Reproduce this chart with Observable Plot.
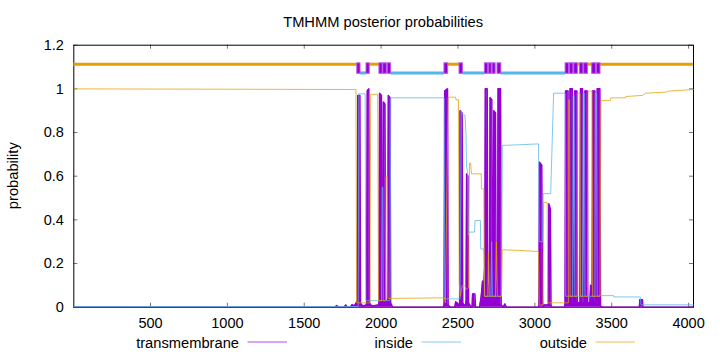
<!DOCTYPE html>
<html><head><meta charset="utf-8">
<script src="https://cdn.jsdelivr.net/npm/d3@7"></script>
<script src="https://cdn.jsdelivr.net/npm/@observablehq/plot@0.6"></script>
<style>body{margin:0;background:#fff}svg{display:block}</style>
</head><body><div id="chart"></div>
<script>
const titleText = "TMHMM posterior probabilities";
const yLabel = "probability";
const seriesNames = ["transmembrane", "inside", "outside"];
const seriesColors = ["#9400d3", "#56b4e9", "#e69f00"];
const xTicks = [500, 1000, 1500, 2000, 2500, 3000, 3500, 4000];
const yTicks = [0, 0.2, 0.4, 0.6, 0.8, 1, 1.2];

// [residue, probability]
const transmembrane = [[1,0],[1700,0],[1712,0.008],[1725,0],[1760,0],[1770,0.01],[1780,0],[1800,0],[1812,0.012],[1825,0.005],[1838,0.02],
[1845,0.03],[1848,0.97],[1862,0.97],[1866,0.02],[1880,0.005],[1904,0.01],
[1907,0.03],[1910,0.99],[1920,1.0],[1924,0.02],[1940,0.005],[1984,0.01],
[1987,0.03],[1990,0.98],[2002,0.97],[2006,0.03],
[2012,0.03],[2015,0.94],[2025,0.93],[2029,0.03],
[2043,0.03],[2047,0.97],[2058,0.96],[2062,0.02],[2075,0],[2405,0],
[2410,0.01],[2414,0.99],[2432,1.0],[2436,0.01],[2450,0],[2480,0],[2485,0.025],[2495,0.02],[2505,0.005],
[2511,0.02],[2514,0.9],[2527,0.89],[2531,0.02],[2540,0.01],[2550,0.01],
[2553,0.03],[2556,0.61],[2565,0.6],[2569,0.02],[2585,0],[2592,0],[2595,0.06],[2610,0.06],[2614,0],
[2640,0],[2650,0.04],[2660,0.12],[2667,0.06],[2672,0.16],
[2675,0.2],[2678,1.0],[2690,1.0],[2694,0.08],[2700,0.05],[2706,0.12],
[2709,0.96],[2720,0.95],[2724,0.05],[2729,0.08],[2733,0.9],[2744,0.89],[2748,0.04],[2753,0.05],[2758,0.12],
[2761,1.0],[2777,1.0],[2781,0.01],[2795,0],[2805,0.015],[2815,0],[3025,0],
[3027,0.03],[3030,0.664],[3045,0.65],[3050,0.03],[3053,0],[3060,0.01],[3080,0.01],
[3088,0.01],[3091,0.474],[3101,0.45],[3105,0.01],[3110,0],[3194,0],
[3197,0.02],[3200,0.99],[3216,0.99],[3219,0.02],
[3226,0.02],[3229,1.0],[3244,1.0],[3247,0.02],
[3256,0.02],[3260,0.99],[3274,0.99],[3277,0.02],
[3294,0.02],[3297,1.0],[3310,1.0],[3313,0.02],
[3323,0.02],[3326,0.99],[3341,0.99],[3344,0.02],
[3358,0.02],[3363,0.1],[3369,0.03],
[3373,0.02],[3376,0.99],[3391,0.99],[3394,0.02],
[3403,0.02],[3406,1.0],[3423,1.0],[3427,0.005],
[3440,0],[3680,0],[3683,0.034],[3700,0.034],[3703,0],[4031,0]];

const inside = [[1,0.003],[1851,0.003],[1855,0.977],[1896,0.977],[1900,0.03],[2003,0.03],[2007,0.55],[2011,0.55],[2014,0.03],[2058,0.03],
[2063,0.959],[2410,0.959],[2414,0.038],[2514,0.038],[2520,0.9],[2530,0.88],[2545,0.88],[2552,0.8],[2556,0.64],[2563,0.62],[2568,0.33],
[2572,0.344],[2608,0.344],[2611,0.397],[2646,0.397],[2648,0.267],[2668,0.267],[2674,0.05],[2714,0.05],[2719,0.3],[2724,0.05],[2783,0.05],
[2788,0.741],[2900,0.744],[3024,0.748],[3028,0.3],[3050,0.3],[3054,0.52],[3103,0.52],[3122,0.98],[3197,0.98],[3201,0.05],
[3245,0.05],[3249,0.97],[3256,0.97],[3260,0.05],[3310,0.05],[3314,0.98],[3322,0.98],[3326,0.05],[3391,0.05],[3395,0.98],[3402,0.98],[3406,0.05],
[3428,0.053],[3512,0.053],[3514,0.047],[3686,0.047],[3690,0.011],[4031,0.011]];

const outside = [[1,1.0],[1836,0.997],[1841,0.02],[1928,0.02],[1932,0.975],[1978,0.975],[1983,0.03],[2028,0.03],[2032,0.6],[2040,0.6],[2044,0.04],
[2412,0.043],[2418,0.02],[2436,0.962],[2484,0.962],[2487,0.95],[2503,0.95],[2508,0.11],[2515,0.05],[2528,0.1],[2545,0.1],[2550,0.08],[2569,0.09],
[2575,0.66],[2582,0.66],[2588,0.611],[2651,0.611],[2653,0.542],[2668,0.542],[2672,0.05],[2694,0.05],[2698,0.25],[2704,0.05],[2744,0.05],[2750,0.3],[2756,0.05],[2783,0.05],
[2788,0.263],[2900,0.26],[3024,0.255],[3028,0.01],[3053,0.01],[3057,0.48],[3080,0.48],[3084,0.02],[3218,0.02],[3220,0.95],[3226,0.95],[3229,0.05],
[3276,0.05],[3279,0.98],[3294,0.98],[3297,0.05],[3342,0.05],[3346,0.99],[3372,0.99],[3376,0.05],[3424,0.05],[3430,0.947],[3492,0.947],[3494,0.959],
[3590,0.959],[3592,0.965],[3700,0.97],[3720,0.98],[3850,0.985],[3870,0.99],[4031,0.997]];

// predicted topology (top indicator)
const tmBoxes = [[1845,1866],[1905,1926],[1989,2010],[2014,2037],[2043,2065],[2412,2436],[2510,2532],[2675,2697],[2702,2720],[2725,2745],[2757,2782],
[3200,3223],[3228,3251],[3256,3280],[3293,3316],[3321,3345],[3373,3398],[3403,3427]];
const insideSegs = [[1866,1905],[2065,2412],[2532,2675],[2782,3200]];
const outsideSegs = [[1,1845],[1926,1989],[2436,2510],[3280,3293],[3345,3373],[3427,4031]];
const topoLevel = {outside: 1.113, inside: 1.073, tmLow: 1.069, tmHigh: 1.117};

const W = 720, H = 352, mL = 73.3, mR = 27, mT = 44.7, mB = 45.3;
const plotW = W - mL - mR, plotH = H - mT - mB;
const font = "'Liberation Sans', Arial, Helvetica, sans-serif";

const chart = Plot.plot({
  width: W, height: H,
  marginLeft: mL, marginRight: mR, marginTop: mT, marginBottom: mB,
  style: {fontFamily: font, fontSize: "14.5px", color: "#000", background: "#fff", overflow: "visible"},
  x: {domain: [1, 4032], ticks: xTicks, tickSize: 0, tickPadding: 11, tickFormat: d => String(d), label: null},
  y: {domain: [0, 1.2], ticks: yTicks, tickSize: 0, tickPadding: 10, tickFormat: d => String(+d.toFixed(1)), label: null},
  marks: [
    Plot.frame({stroke: "#000", strokeWidth: 1}),
    Plot.ruleX(xTicks, {x: d => d, insetTop: plotH - 4, stroke: "#000", strokeOpacity: 0.55}),
    Plot.ruleX(xTicks, {x: d => d, insetBottom: plotH - 4, stroke: "#000", strokeOpacity: 0.55}),
    Plot.ruleY(yTicks, {y: d => d, insetRight: plotW - 4, stroke: "#000", strokeOpacity: 0.55}),
    Plot.ruleY(yTicks, {y: d => d, insetLeft: plotW - 4, stroke: "#000", strokeOpacity: 0.55}),
    Plot.areaY(transmembrane, {x: d => d[0], y: d => d[1], fill: seriesColors[0], curve: "linear"}),
    Plot.line(transmembrane, {x: d => d[0], y: d => d[1], stroke: seriesColors[0], strokeWidth: 1.5, curve: "linear"}),
    Plot.line(inside, {x: d => d[0], y: d => d[1], stroke: seriesColors[1], strokeWidth: 1, strokeOpacity: 0.75}),
    Plot.line(outside, {x: d => d[0], y: d => d[1], stroke: seriesColors[2], strokeWidth: 1, strokeOpacity: 0.75}),
    Plot.ruleY(outsideSegs, {x1: d => d[0], x2: d => d[1], y: () => topoLevel.outside, stroke: seriesColors[2], strokeWidth: 3}),
    Plot.ruleY(insideSegs, {x1: d => d[0], x2: d => d[1], y: () => topoLevel.inside, stroke: seriesColors[1], strokeWidth: 3}),
    Plot.rect(tmBoxes, {x1: d => d[0], x2: d => d[1], y1: () => topoLevel.tmLow, y2: () => topoLevel.tmHigh, fill: seriesColors[0], stroke: "#b858ea", strokeWidth: 1})
  ]
});

const svg = d3.select(chart);
const fs = "14.7px";
svg.append("text").attr("x", mL + plotW / 2).attr("y", 27.3).attr("text-anchor", "middle")
  .attr("font-family", font).attr("font-size", fs).attr("fill", "#000").text(titleText);
svg.append("text").attr("transform", `translate(17.5,${mT + plotH / 2}) rotate(-90)`).attr("text-anchor", "middle")
  .attr("font-family", font).attr("font-size", fs).attr("fill", "#000").text(yLabel);
const legendTextEnd = [239, 413, 587];
seriesNames.forEach((name, i) => {
  const xe = legendTextEnd[i];
  svg.append("text").attr("x", xe).attr("y", 347.5).attr("text-anchor", "end")
    .attr("font-family", font).attr("font-size", fs).attr("fill", "#000").text(name);
  svg.append("line").attr("x1", xe + 8.5).attr("x2", xe + 48).attr("y1", 342).attr("y2", 342)
    .attr("stroke", seriesColors[i]).attr("stroke-width", 1).attr("stroke-opacity", 0.7);
});
document.getElementById("chart").append(chart);
</script></body></html>
